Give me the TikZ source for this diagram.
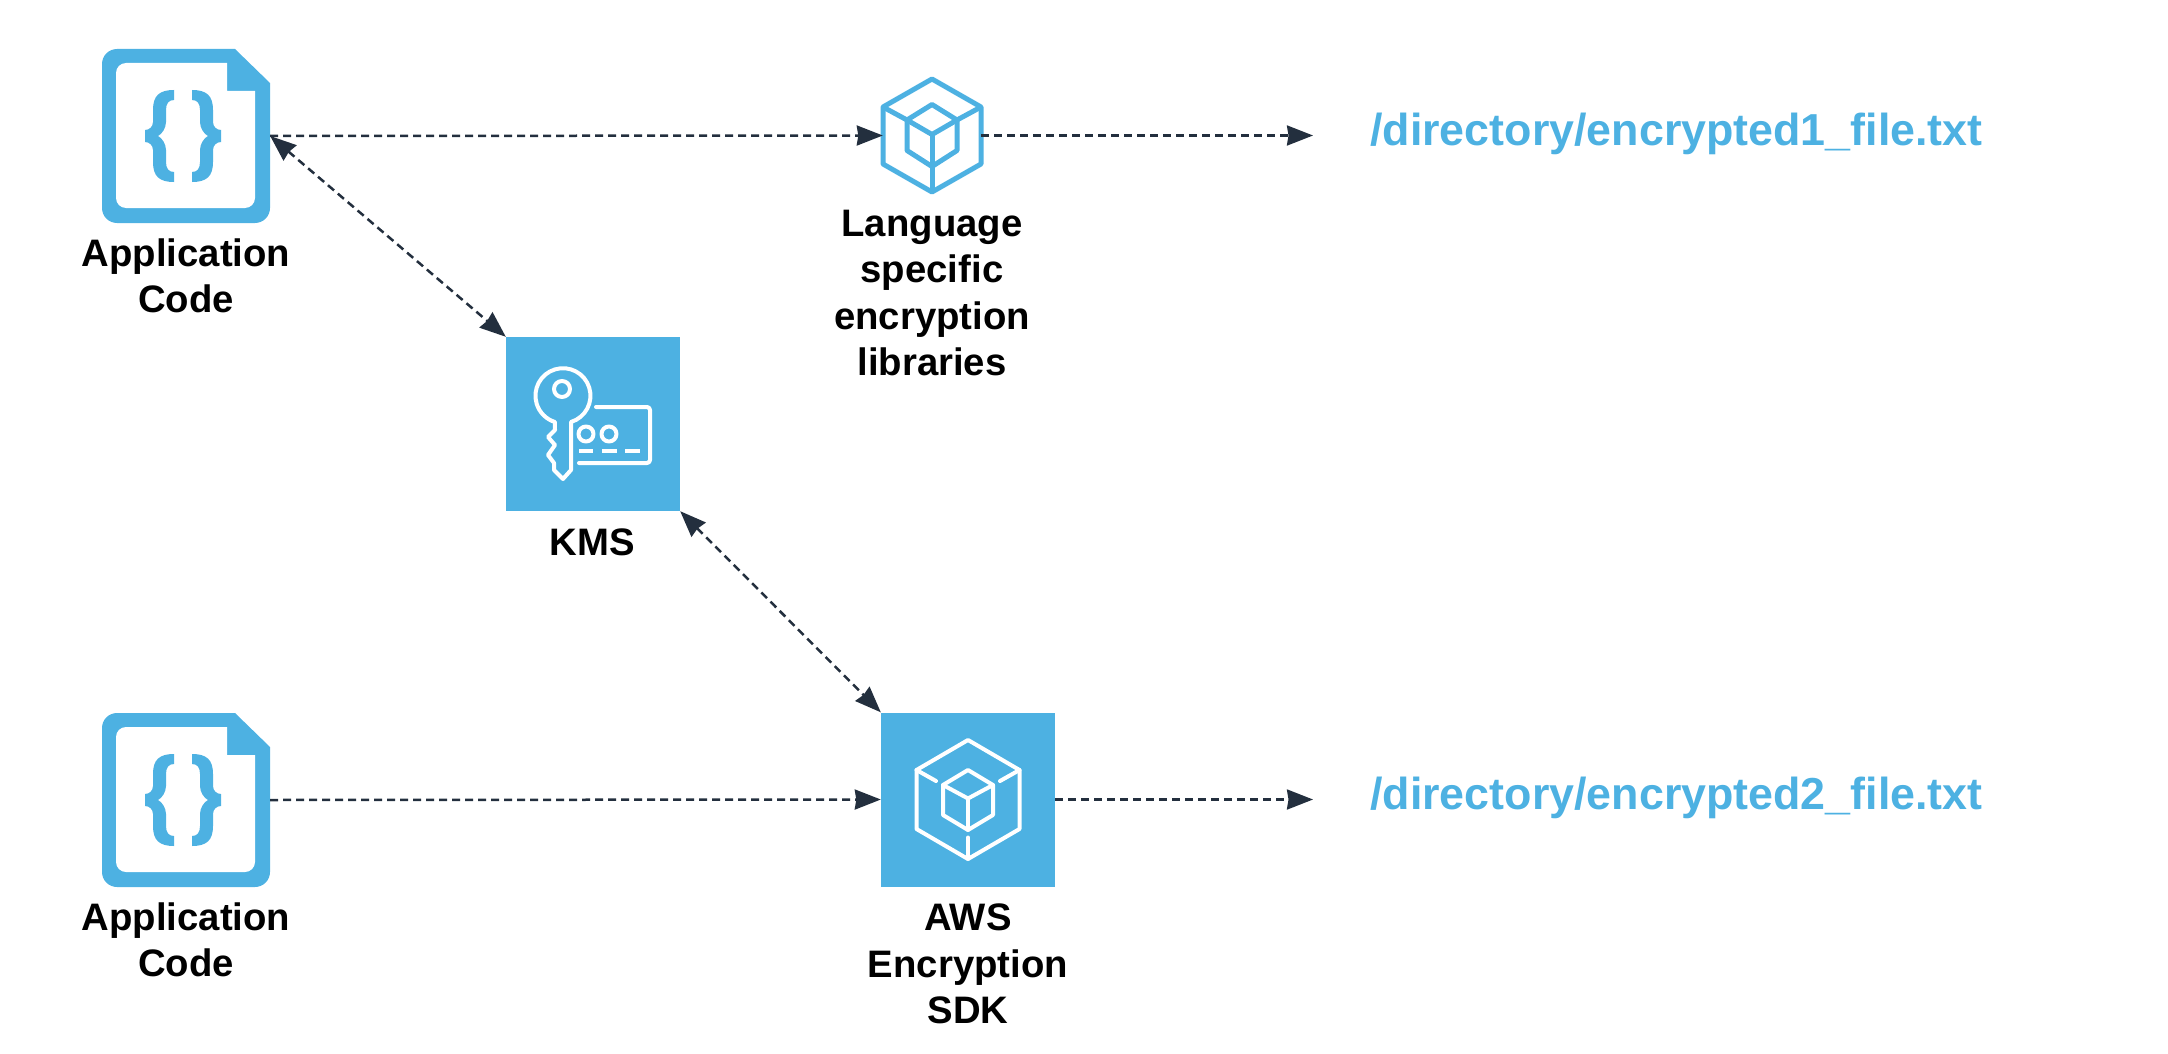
\documentclass[tikz,border=0pt]{standalone}
\usepackage{fontspec}
\setmainfont{Liberation Sans}
\usetikzlibrary{arrows.meta}
\definecolor{awsblue}{HTML}{4DB1E2}
\definecolor{arrowink}{HTML}{232F3E}
\tikzset{
  x=1pt,y=-1pt,
  tipmark/.tip={Stealth[length=26pt,width=20pt,inset=1.5pt]},
  flow/.style={draw=arrowink,line width=2.5pt,dash pattern=on 8pt off 5pt,-{tipmark}},
  flowboth/.style={flow,{tipmark}-{tipmark}},
  caption/.style={font=\fontsize{38.3}{46.5}\selectfont\bfseries,text=black,align=center,inner sep=0pt},
  pathtext/.style={font=\fontsize{44.8}{50}\selectfont\bfseries,text=awsblue,inner sep=0pt},
  bluebox/.style={fill=awsblue,draw=none,minimum width=174pt,minimum height=174pt,inner sep=0pt},
  anchorbox/.style={draw=none,inner sep=0pt},
  whiteline/.style={draw=white,line width=4pt,line join=round,line cap=round},
  hexline/.style={draw=awsblue,line width=5pt,line join=round},
  appicon/.pic={
    \fill[awsblue] (-84,-72) arc[start angle=180,end angle=270,radius=15] -- (49,-87) -- (84,-53)
       -- (84,72) arc[start angle=0,end angle=90,radius=15] -- (-69,87) arc[start angle=90,end angle=180,radius=15] -- cycle;
    \fill[white] (-70,-63) arc[start angle=180,end angle=270,radius=10] -- (41,-73) -- (41,-45) -- (69,-45)
       -- (69,62) arc[start angle=0,end angle=90,radius=10] -- (-60,72) arc[start angle=90,end angle=180,radius=10] -- cycle;
    \foreach \sx in {1,-1}{
      \fill[awsblue,xshift=-3pt,xscale=\sx]
        (-9,-46) .. controls (-24,-46) and (-30,-40) .. (-30,-26) -- (-30,-14)
        .. controls (-30,-9) and (-34,-6) .. (-38,-6) -- (-38,6)
        .. controls (-34,6) and (-30,9) .. (-30,14) -- (-30,26)
        .. controls (-30,40) and (-24,46) .. (-9,46) -- (-9,36)
        .. controls (-14,36) and (-17,33) .. (-17,26) -- (-17,14)
        .. controls (-17,8) and (-21,2) .. (-25,0)
        .. controls (-21,-2) and (-17,-8) .. (-17,-14) -- (-17,-26)
        .. controls (-17,-33) and (-14,-36) .. (-9,-36) -- cycle;
    }
  }
}
\begin{document}
\begin{tikzpicture}
\useasboundingbox (0,0) rectangle (2168,1054);

% application icons
\node[anchorbox,minimum width=168pt,minimum height=174pt] (app1) at (186,136) {};
\pic at (app1.center) {appicon};
\node[caption] (app1label) at (186,276) {Application\\Code};
\node[anchorbox,minimum width=168pt,minimum height=174pt] (app2) at (186,800) {};
\pic at (app2.center) {appicon};
\node[caption] (app2label) at (186,940) {Application\\Code};

% encryption library hexagon
\node[anchorbox,minimum width=98pt,minimum height=113pt] (lib) at (932,135.5) {};
\begin{scope}[shift={(lib.center)}]
  \draw[hexline] (0,-56.5) -- (49,-28.5) -- (49,28.5) -- (0,56.5) -- (-49,28.5) -- (-49,-28.5) -- cycle;
  \draw[hexline] (0,-31) -- (25,-15.5) -- (25,15) -- (0,31) -- (-25,15) -- (-25,-15.5) -- cycle;
  \draw[hexline] (-25,-15.5) -- (0,-1) -- (25,-15.5);
  \draw[hexline] (0,-1) -- (0,56.5);
  \draw[hexline] (-49,-28.5) -- (-25,-15.5);
  \draw[hexline] (49,-28.5) -- (25,-15.5);
\end{scope}
\node[caption] (liblabel) at (932,293) {Language\\specific\\encryption\\libraries};

% KMS
\node[bluebox] (kms) at (593,424) {};
\begin{scope}[shift={(kms.center)}]
  \draw[whiteline]
    (-22,-2) arc[start angle=73,end angle=-253,radius=27.5]
    -- (-38,6) -- (-45,13) -- (-38,21) -- (-45,31) -- (-39,39) -- (-39,46)
    -- (-30,55) -- (-22,46) -- cycle;
  \draw[whiteline] (-31,-35) circle[radius=8];
  \draw[whiteline,rounded corners=3pt] (3,-17) -- (57,-17) -- (57,39) -- (-14,39);
  \draw[whiteline] (-7,10) circle[radius=7.5];
  \draw[whiteline] (16,10) circle[radius=7.5];
  \draw[whiteline,line cap=butt] (-14,27) -- (0,27) (9,27) -- (24,27) (32,27) -- (47,27);
\end{scope}
\node[caption] (kmslabel) at (592,542) {KMS};

% AWS Encryption SDK
\node[bluebox] (sdk) at (968,799.5) {};
\begin{scope}[shift={(sdk.center)}]
  \draw[whiteline] (0,-59.5) -- (51.5,-29.5) -- (51.5,29.5) -- (0,59.5) -- (-51.5,29.5) -- (-51.5,-29.5) -- cycle;
  \draw[whiteline] (0,-29.5) -- (25,-14.5) -- (25,15.5) -- (0,30.5) -- (-25,15.5) -- (-25,-14.5) -- cycle;
  \draw[whiteline] (-25,-14.5) -- (0,-1) -- (25,-14.5);
  \draw[whiteline] (0,-1) -- (0,30.5);
  \draw[whiteline] (-51.5,-29.5) -- (-32,-18.5);
  \draw[whiteline] (51.5,-29.5) -- (32,-18.5);
  \draw[whiteline] (0,38) -- (0,59.5);
\end{scope}
\node[caption] (sdklabel) at (968,964) {AWS\\Encryption\\SDK};

% output paths
\node[pathtext,anchor=west] (file1) at (1370,134) {/directory/encrypted1\_file.txt};
\node[pathtext,anchor=west] (file2) at (1370,798) {/directory/encrypted2\_file.txt};
\coordinate (out1) at (1313,135.5);
\coordinate (out2) at (1313,799.5);

% connectors
\draw[flow] (app1.east) -- (lib.west);
\draw[flow] (lib.east) -- (out1);
\draw[flowboth] (app1.east) -- (kms.north west);
\draw[flowboth] (kms.south east) -- (sdk.north west);
\draw[flow] (app2.east) -- (sdk.west);
\draw[flow] (sdk.east) -- (out2);
\end{tikzpicture}
\end{document}
